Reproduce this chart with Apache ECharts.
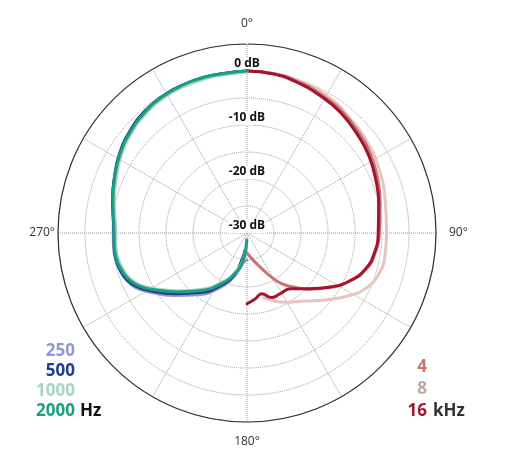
<!DOCTYPE html>
<html><head><meta charset="utf-8">
<script src="https://cdn.jsdelivr.net/npm/echarts@6/dist/echarts.min.js"></script>
<style>html,body{margin:0;padding:0;background:#fff}#c{width:523px;height:465px}</style>
</head><body><div id="c"></div>
<script>
// [angle (deg, clockwise from top), level (dB)]
const angleTicks = [0, 90, 180, 270];
const radialTicks = [0, -10, -20, -30];
const hzLabels = ['250', '500', '1000', '2000'];
const khzLabels = ['4', '8', '16'];

const f250 = [[0,0],[353,-0.15],[345,-0.1],[336,-0.12],[328,-0.25],[320,-0.6],[311,-1.3],[302,-2.2],[293,-3.35],[284,-4.35],[270,-5.35],[264,-5.2],[258,-5.2],[253.5,-5.5],[249,-6.0],[244,-7.0],[238.5,-9.0],[229.5,-12.2],[218.5,-15.4],[206.7,-18.6],[196.6,-21.6],[192,-23.2],[188,-24.3],[184,-24.8],[180.5,-25.0]];
const f500 = [[0,0],[353,-0.15],[345,-0.1],[336,-0.12],[328,-0.25],[320,-0.55],[311,-1.25],[302,-2.2],[293,-3.35],[284,-4.35],[270,-5.35],[264,-5.25],[258,-5.3],[253.5,-5.6],[249,-6.1],[244,-7.3],[238.5,-9.4],[229.5,-12.7],[218.5,-15.9],[206.7,-19.1],[196.6,-22.0],[190,-25.3],[187,-26.8]];
const f1000 = [[0,-0.2],[353,-0.4],[345,-0.4],[336,-0.45],[328,-0.6],[320,-1.0],[311,-1.7],[302,-2.6],[293,-3.7],[284,-4.7],[270,-5.7],[264,-5.6],[258,-5.7],[253.5,-6.1],[249,-6.7],[244,-8.0],[238.5,-10.2],[229.5,-13.5],[218.5,-16.7],[206.7,-19.8],[196.6,-22.5],[188,-25.2],[182,-28.8]];
const f2000 = [[0,0],[353,-0.15],[345,-0.1],[336,-0.15],[328,-0.3],[320,-0.7],[311,-1.4],[302,-2.3],[293,-3.4],[284,-4.4],[270,-5.4],[264,-5.3],[258,-5.4],[253.5,-5.8],[249,-6.4],[244,-7.7],[238.5,-9.9],[229.5,-13.2],[218.5,-16.4],[206.7,-19.5],[196.6,-22.2],[188,-24.9],[182,-28.7]];

const k4 = [[0,0],[9.5,-0.1],[18.4,-0.4],[28.2,-0.9],[37.8,-1.4],[48.2,-2.2],[57.8,-2.9],[67.5,-3.8],[77.2,-4.7],[90,-5.5],[99.1,-6.0],[106.7,-6.9],[114.5,-8.8],[122.9,-11.5],[132.8,-14.7],[139.2,-16.8],[144.6,-18.3],[149.9,-20.2],[156.2,-22.5],[166.8,-24.8],[180,-26.3]];
const k8 = [[0,0],[9.4,0],[19.4,-0.3],[30.3,-0.6],[42.3,-1.5],[53.2,-2.1],[64.4,-2.85],[76.5,-3.7],[90,-4.15],[99.8,-4.1],[107.1,-4.4],[114.2,-5.55],[121,-7.6],[129.8,-10.7],[140.2,-13.6],[152.1,-15.5],[160.9,-16.9],[165.8,-17.6]];
const k16 = [[0,0],[9.5,-0.15],[18.4,-0.6],[28.2,-1.2],[37.8,-1.75],[48.2,-2.6],[57.8,-3.3],[67.5,-4.2],[77.2,-5.0],[90,-5.7],[99.1,-6.15],[106.7,-7.05],[114.5,-8.9],[122.9,-11.6],[132.8,-14.8],[142.1,-16.9],[151.3,-17.2],[159,-17.2],[166.3,-18.4],[173,-17.7],[180,-16.9]];

const hzColors = ['#9297d2', '#1f3c92', '#a6d6c2', '#1c9e80'];
const khzLineColors = ['#c97474', '#e9c3bf', '#a1152e'];
const khzTextColors = ['#c87070', '#c2a8a4', '#9e1a32'];

function toPolar(arr) { return arr.map(p => [p[1], p[0]]); }
function line(name, arr, color, w, z) {
  return { name, type: 'line', coordinateSystem: 'polar', data: toPolar(arr), smooth: 0.5,
    symbol: 'none', z: z, lineStyle: { color, width: w, cap: 'round', join: 'round' }, silent: true };
}

const chart = echarts.init(document.getElementById('c'), null, { renderer: 'canvas' });
const FONT = '"Open Sans", "DejaVu Sans", sans-serif';

const graphics = [];
hzLabels.forEach((t, i) => {
  graphics.push({ type: 'text', x: 75, y: 351 + i * 20,
    style: { text: t, fill: hzColors[i], font: 'bold 17px ' + FONT, textAlign: 'right', textVerticalAlign: 'middle' } });
});
graphics.push({ type: 'text', x: 80, y: 411, style: { text: 'Hz', fill: '#111', font: 'bold 17px ' + FONT, textAlign: 'left', textVerticalAlign: 'middle' } });
khzLabels.forEach((t, i) => {
  graphics.push({ type: 'text', x: 427, y: 367 + i * 22,
    style: { text: t, fill: khzTextColors[i], font: 'bold 17px ' + FONT, textAlign: 'right', textVerticalAlign: 'middle' } });
});
graphics.push({ type: 'text', x: 433, y: 411, style: { text: 'kHz', fill: '#333', font: 'bold 17px ' + FONT, textAlign: 'left', textVerticalAlign: 'middle' } });

const angleRich = {
  t: { padding: [0, 0, 11, 0] },
  r: { padding: [0, 0, 0, 10] },
  b: { padding: [11, 0, 0, 0] },
  l: { padding: [0, 0, 0, 0] }
};
const angleKey = { 0: 't', 90: 'r', 180: 'b', 270: 'l' };

chart.setOption({
  animation: false,
  backgroundColor: '#fff',
  polar: { center: [247, 233], radius: 189 },
  angleAxis: {
    type: 'value', min: 0, max: 360, interval: 30, startAngle: 90, clockwise: true,
    axisLine: { show: true, lineStyle: { color: '#333', width: 1.2 } },
    axisTick: { show: false },
    splitLine: { show: true, lineStyle: { color: '#9a9a9a', type: 'dotted', width: 1 } },
    axisLabel: { margin: 3, color: '#333', fontSize: 12, fontFamily: FONT, rich: angleRich,
      formatter: v => (v < 360 && angleTicks.includes(v)) ? '{' + angleKey[v] + '|' + v + '°}' : '' }
  },
  radiusAxis: {
    type: 'value', min: -30, max: 5, interval: 5,
    axisLine: { show: false }, axisTick: { show: false },
    splitLine: { show: true, lineStyle: { color: '#9a9a9a', type: 'dotted', width: 1 } },
    axisLabel: { margin: 0, align: 'center', verticalAlign: 'bottom', color: '#111', fontSize: 12,
      fontWeight: 'bold', fontFamily: FONT, backgroundColor: '#fff', padding: [0, 1, 1, 1],
      formatter: v => radialTicks.includes(v) ? v + ' dB' : '' }
  },
  series: [
    line('8 kHz', k8, khzLineColors[1], 3, 2),
    line('4 kHz', k4, khzLineColors[0], 3, 3),
    line('16 kHz', k16, khzLineColors[2], 3, 4),
    line('250 Hz', f250, hzColors[0], 3, 2),
    line('500 Hz', f500, hzColors[1], 3, 3),
    line('1000 Hz', f1000, hzColors[2], 3, 4),
    line('2000 Hz', f2000, hzColors[3], 3, 5)
  ],
  graphic: graphics
});
</script></body></html>
